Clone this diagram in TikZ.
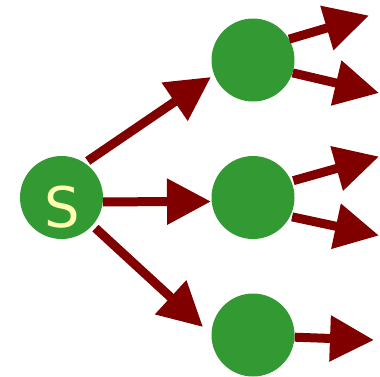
\documentclass[tikz,border=0pt]{standalone}
\usepackage{fontspec}
\setmainfont{DejaVu Sans}
\usetikzlibrary{arrows.meta}
\definecolor{grn}{HTML}{339933}
\definecolor{arr}{HTML}{800000}
\definecolor{lbl}{HTML}{FFFFB0}
\tikzset{
 circ/.style={circle,fill=grn,minimum size=83pt,inner sep=0pt},
 conn/.style={draw=arr,line width=9pt,-{Triangle[length=44pt,width=44pt,fill=arr]}},
 lab/.style={text=lbl,font=\fontsize{56pt}{56pt}\selectfont,inner sep=0pt}
}
\begin{document}
\begin{tikzpicture}[x=1pt,y=-1pt]
\useasboundingbox (0,0) rectangle (380,376);
\node[circ] (s) at (61.5,197.5) {};
\node[lab] (sl) at (62,207) {S};
\node[circ] (a) at (253,60) {};
\node[circ] (b) at (253,197.5) {};
\node[circ] (c) at (253,335) {};
\coordinate (ta) at (211,77);
\coordinate (tb) at (211,201.5);
\coordinate (tc) at (203,327);
\coordinate (a1) at (369,15.5);
\coordinate (a2) at (379,93);
\coordinate (b1) at (379,156.5);
\coordinate (b2) at (379,235.5);
\coordinate (c1) at (374,340);
\draw[conn,shorten <=3.5pt] (s.56) -- (ta);
\draw[conn] (s.-6) -- (tb);
\draw[conn,shorten <=4pt] (s.-42) -- (tc);
\draw[conn] (a.30) -- (a1);
\draw[conn] (a.-18) -- (a2);
\draw[conn,shorten <=2pt] (b.23) -- (b1);
\draw[conn,shorten <=2pt] (b.-27) -- (b2);
\draw[conn] (c.-3) -- (c1);
\end{tikzpicture}
\end{document}
